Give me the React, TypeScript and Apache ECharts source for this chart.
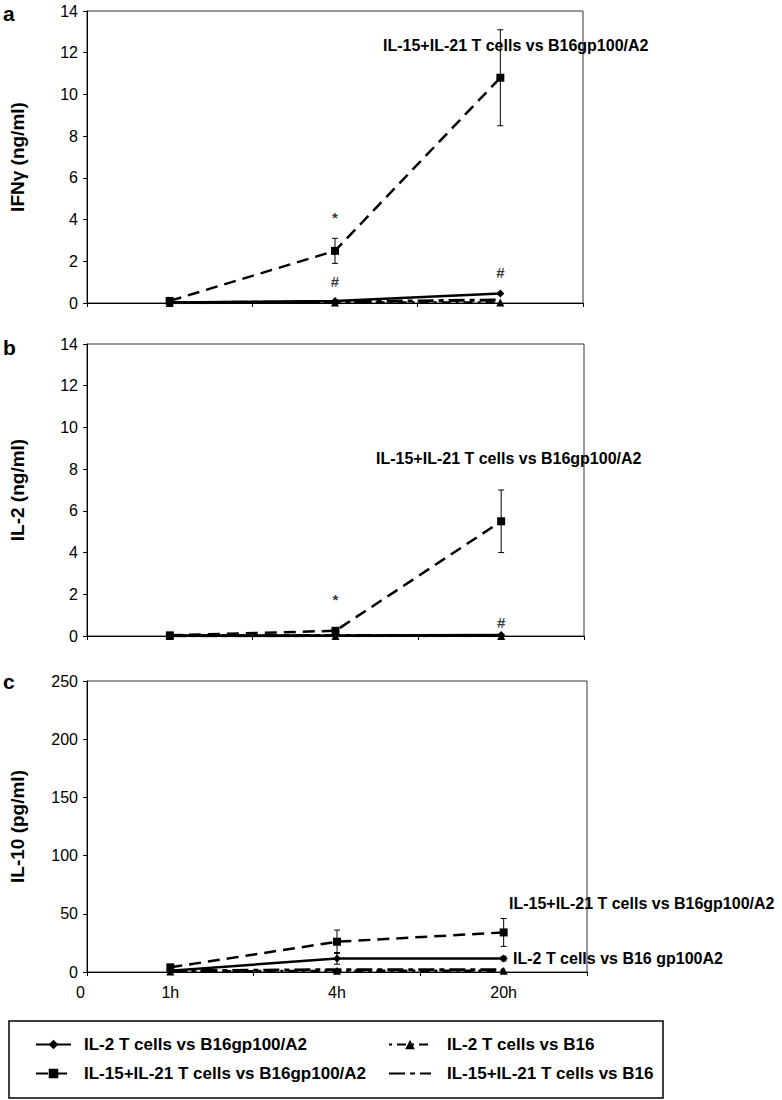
import React, { useEffect, useRef } from "react";
import * as echarts from "echarts";

const FONT = "'Liberation Sans', Arial, Helvetica, sans-serif";

const timepoints = ["1h", "4h", "20h"];

const seriesNames = [
  "IL-2 T cells vs B16gp100/A2",
  "IL-15+IL-21 T cells vs B16gp100/A2",
  "IL-2 T cells vs B16",
  "IL-15+IL-21 T cells vs B16",
];

// Panel a: IFNγ (ng/ml)
const ifnIL2Gp = [0.02, 0.1, 0.45];
const ifnIL15Gp = [0.1, 2.5, 10.8];
const ifnIL2B16 = [0.0, 0.02, 0.02];
const ifnIL15B16 = [0.02, 0.05, 0.15];
const ifnIL2GpErr = [0, 0, 0];
const ifnIL15GpErr = [0, 0.6, 2.3];

// Panel b: IL-2 (ng/ml)
const il2IL2Gp = [0.02, 0.02, 0.05];
const il2IL15Gp = [0.03, 0.25, 5.5];
const il2IL2B16 = [0.0, 0.0, 0.0];
const il2IL15B16 = [0.01, 0.02, 0.02];
const il2IL2GpErr = [0, 0, 0];
const il2IL15GpErr = [0, 0.05, 1.5];

// Panel c: IL-10 (pg/ml)
const il10IL2Gp = [1, 11.7, 11.5];
const il10IL15Gp = [4, 26, 34];
const il10IL2B16 = [0.5, 1, 1];
const il10IL15B16 = [1, 2, 2];
const il10IL2GpErr = [0.5, 5, 2];
const il10IL15GpErr = [1, 10, 12];

// significance marks: [timepoint, y value, symbol]
const sigA: [string, number, string][] = [
  ["4h", 4.1, "*"],
  ["4h", 1.05, "#"],
  ["20h", 1.45, "#"],
];
const sigB: [string, number, string][] = [
  ["4h", 1.77, "*"],
  ["20h", 0.67, "#"],
];

const yTicksAB = { min: 0, max: 14, interval: 2 };
const yTicksC = { min: 0, max: 250, interval: 50 };

const BLACK = "#000";

function lineSeries(idx: number, name: string, data: number[]) {
  const common: any = {
    type: "line",
    name,
    xAxisIndex: idx,
    yAxisIndex: idx,
    data,
    color: BLACK,
    symbolKeepAspect: true,
    z: 3,
  };
  if (name === seriesNames[0]) {
    return { ...common, symbol: "diamond", symbolSize: 8, lineStyle: { color: BLACK, width: 2.5, type: "solid" }, itemStyle: { color: BLACK } };
  }
  if (name === seriesNames[1]) {
    return { ...common, symbol: "rect", symbolSize: 8, lineStyle: { color: BLACK, width: 2.5, type: [12, 7] }, itemStyle: { color: BLACK } };
  }
  if (name === seriesNames[2]) {
    return { ...common, symbol: "triangle", symbolSize: 8, lineStyle: { color: BLACK, width: 2.5, type: [3, 5, 9, 5] }, itemStyle: { color: BLACK } };
  }
  return { ...common, symbol: "none", symbolSize: 0, showSymbol: false, lineStyle: { color: BLACK, width: 3, type: [16, 5, 5, 5] }, itemStyle: { color: BLACK } };
}

function errorSeries(idx: number, values: number[], errs: number[]) {
  return {
    type: "custom",
    xAxisIndex: idx,
    yAxisIndex: idx,
    z: 4,
    silent: true,
    data: values.map((v, i) => [i, Math.max(0, v - errs[i]), v + errs[i]]),
    renderItem: (params: any, api: any) => {
      const x = api.value(0);
      const lo = api.coord([x, api.value(1)]);
      const hi = api.coord([x, api.value(2)]);
      const w = 3;
      const st = { stroke: BLACK, lineWidth: 1 };
      return {
        type: "group",
        children: [
          { type: "line", shape: { x1: lo[0], y1: lo[1], x2: hi[0], y2: hi[1] }, style: st },
          { type: "line", shape: { x1: lo[0] - w, y1: lo[1], x2: lo[0] + w, y2: lo[1] }, style: st },
          { type: "line", shape: { x1: hi[0] - w, y1: hi[1], x2: hi[0] + w, y2: hi[1] }, style: st },
        ],
      };
    },
  };
}

function sigSeries(idx: number, marks: [string, number, string][]) {
  return {
    type: "scatter",
    xAxisIndex: idx,
    yAxisIndex: idx,
    symbolSize: 0,
    silent: true,
    data: marks.map((m) => ({ value: [m[0], m[1]], name: m[2] })),
    label: {
      show: true,
      position: "inside",
      formatter: "{b}",
      color: BLACK,
      fontFamily: FONT,
      fontSize: 15,
      fontWeight: "bold",
    },
  };
}

const grids = [
  { left: 79, top: 11, width: 504, height: 292 },
  { left: 79, top: 344, width: 505, height: 292 },
  { left: 79, top: 681, width: 508, height: 291 },
];

const yNames = ["IFNγ (ng/ml)", "IL-2 (ng/ml)", "IL-10 (pg/ml)"];

export default function App() {
  const ref = useRef<HTMLDivElement>(null);
  useEffect(() => {
    document.body.style.margin = "0";
    if (!ref.current) return;
    const chart = echarts.init(ref.current, null, { renderer: "svg" });

    const xAxes = grids.map((_, i) => ({
      type: "category",
      gridIndex: i,
      data: timepoints,
      boundaryGap: true,
      axisLine: { lineStyle: { color: BLACK, width: 1 } },
      axisTick: { show: true, inside: false, length: 4, lineStyle: { color: BLACK } },
      axisLabel: {
        show: i === 2,
        color: BLACK,
        fontFamily: FONT,
        fontSize: 16,
        margin: 12,
      },
    }));

    const yAxes = grids.map((_, i) => {
      const t = i === 2 ? yTicksC : yTicksAB;
      return {
        type: "value",
        gridIndex: i,
        min: t.min,
        max: t.max,
        interval: t.interval,
        name: yNames[i],
        nameLocation: "middle",
        nameRotate: 90,
        nameGap: 60,
        nameTextStyle: { color: BLACK, fontFamily: FONT, fontSize: 19, fontWeight: "bold" },
        axisLine: { show: true, lineStyle: { color: BLACK, width: 1 } },
        axisTick: { show: true, inside: false, length: 4, lineStyle: { color: BLACK } },
        splitLine: { show: false },
        axisLabel: { color: BLACK, fontFamily: FONT, fontSize: 16, margin: 9 },
      };
    });

    const series: any[] = [
      lineSeries(0, seriesNames[0], ifnIL2Gp),
      lineSeries(0, seriesNames[1], ifnIL15Gp),
      lineSeries(0, seriesNames[2], ifnIL2B16),
      lineSeries(0, seriesNames[3], ifnIL15B16),
      errorSeries(0, ifnIL2Gp, ifnIL2GpErr),
      errorSeries(0, ifnIL15Gp, ifnIL15GpErr),
      sigSeries(0, sigA),
      lineSeries(1, seriesNames[0], il2IL2Gp),
      lineSeries(1, seriesNames[1], il2IL15Gp),
      lineSeries(1, seriesNames[2], il2IL2B16),
      lineSeries(1, seriesNames[3], il2IL15B16),
      errorSeries(1, il2IL2Gp, il2IL2GpErr),
      errorSeries(1, il2IL15Gp, il2IL15GpErr),
      sigSeries(1, sigB),
      lineSeries(2, seriesNames[0], il10IL2Gp),
      lineSeries(2, seriesNames[1], il10IL15Gp),
      lineSeries(2, seriesNames[2], il10IL2B16),
      lineSeries(2, seriesNames[3], il10IL15B16),
      errorSeries(2, il10IL2Gp, il10IL2GpErr),
      errorSeries(2, il10IL15Gp, il10IL15GpErr),
    ];

    const labelStyle = { fill: BLACK, font: `bold 16px ${FONT}` };
    const panelLetter = { fill: BLACK, font: `bold 21px ${FONT}` };

    const legendCommon = {
      orient: "vertical",
      itemHeight: 12,
      itemGap: 12,
      selectedMode: false,
      top: 1031,
    };

    chart.setOption({
      animation: false,
      backgroundColor: "#fff",
      grid: grids.map((g) => ({ ...g, show: true, borderColor: "#333", borderWidth: 1, backgroundColor: "transparent" })),
      xAxis: xAxes,
      yAxis: yAxes,
      legend: [
        {
          ...legendCommon,
          left: 30,
          itemWidth: 35,
          textStyle: { color: BLACK, fontFamily: FONT, fontSize: 17, fontWeight: "bold", padding: [0, 0, 0, 8] },
          data: [seriesNames[0], seriesNames[1]],
        },
        {
          ...legendCommon,
          left: 383,
          itemWidth: 42,
          textStyle: { color: BLACK, fontFamily: FONT, fontSize: 17, fontWeight: "bold", padding: [0, 0, 0, 11] },
          data: [seriesNames[2], { name: seriesNames[3], itemStyle: { opacity: 0 } }],
        },
      ],
      graphic: [
        { type: "text", left: 3, top: 3, style: { text: "a", ...panelLetter } },
        { type: "text", left: 3, top: 337, style: { text: "b", ...panelLetter } },
        { type: "text", left: 3, top: 671, style: { text: "c", ...panelLetter } },
        { type: "text", left: 383, top: 37, style: { text: "IL-15+IL-21 T cells vs B16gp100/A2", ...labelStyle } },
        { type: "text", left: 376, top: 450, style: { text: "IL-15+IL-21 T cells vs B16gp100/A2", ...labelStyle } },
        { type: "text", left: 509, top: 895, style: { text: "IL-15+IL-21 T cells vs B16gp100/A2", ...labelStyle } },
        { type: "text", left: 513, top: 950, style: { text: "IL-2 T cells vs B16 gp100A2", ...labelStyle } },
        { type: "text", left: 76, top: 984, style: { text: "0", fill: BLACK, font: `16px ${FONT}` } },
        {
          type: "rect",
          shape: { x: 9, y: 1021, width: 654, height: 77 },
          style: { fill: "none", stroke: BLACK, lineWidth: 1.5 },
        },
      ],
      series,
    });
    return () => chart.dispose();
  }, []);
  return <div ref={ref} style={{ width: 782, height: 1100 }} />;
}
